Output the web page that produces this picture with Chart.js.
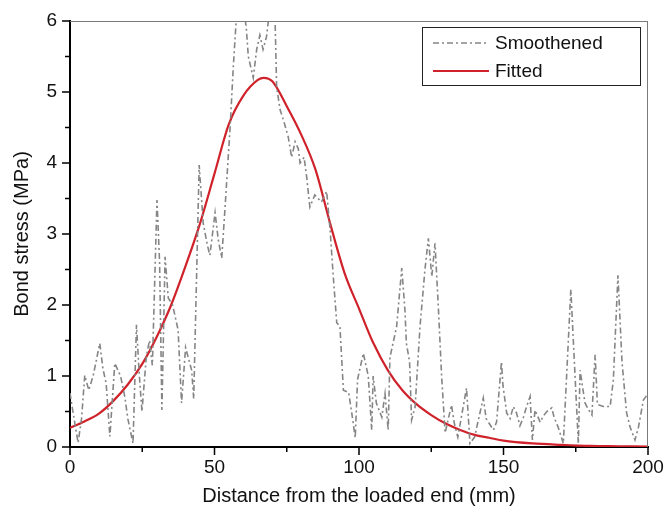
<!DOCTYPE html>
<html>
<head>
<meta charset="utf-8">
<script src="https://cdn.jsdelivr.net/npm/chart.js@4/dist/chart.umd.min.js"></script>
<style>
  html, body { margin: 0; padding: 0; background: #fff; }
  #wrap { width: 667px; height: 513px; }
</style>
</head>
<body>
<div id="wrap"><canvas id="c" width="667" height="513"></canvas></div>
<script>
var smooth_x = [0, 1, 2.8, 4, 5.1, 6.5, 8, 10.3, 11.4, 12.5, 13.8, 15.5, 17.5, 19, 20, 21.8, 23, 24, 24.9, 26.4,
  27.5, 28.5, 30.1, 31, 31.8, 32.9, 34, 35.5, 37.4, 38.6, 40, 42.1, 42.8, 44.7, 46.1, 47.5, 48.4, 50.2, 51.3, 52.5,
  53.6, 55.4, 56.5, 57.8, 59.5, 61, 61.7, 63.4, 64.6, 65.7, 66.8, 68, 69.5, 70.8, 71.5, 72.7, 73.9, 75.5, 76.7, 77.9,
  79, 79.6, 81, 81.9, 83, 84.7, 87, 88.8, 90, 91.1, 92.3, 93.4, 94.6, 96.4, 97.6, 98.7, 99.5, 101.5, 103.2, 104.4,
  104.9, 106, 107.9, 109, 110.1, 110.7, 113, 114.8, 115.9, 116.4, 117.5, 118.2, 119.4, 121.1, 122.8, 124, 125.2, 126.3, 127.5, 128.6,
  129.8, 132, 133, 134.2, 137.2, 138.4, 140, 143, 144, 145.4, 146.5, 147.6, 149.3, 149.8, 151.1, 152.3, 153.4, 154.5, 155.7, 156.9,
  158, 159.2, 160, 160.9, 162.7, 163.8, 165, 166.7, 167.5, 168.9, 170.7, 173.3, 175.9, 176.5, 178.2, 179.5, 180.6, 181.7, 182.5, 184.5,
  186.9, 188, 189.6, 191, 192.6, 193.8, 195.5, 196.7, 198.4, 200];
var smooth_y = [0.76, 0.5, 0.06, 0.4, 1.01, 0.8, 1.0, 1.46, 1.1, 0.9, 0.15, 1.18, 1.0, 0.7, 0.4, 0.05, 1.72, 1.0, 0.5, 1.27,
  1.5, 1.15, 3.48, 2.6, 0.52, 2.68, 2.1, 2.0, 1.65, 0.62, 1.4, 1.08, 0.68, 3.97, 3.15, 2.85, 2.7, 3.3, 2.92, 2.66,
  3.34, 4.5, 5.35, 6.2, 6.4, 5.9, 5.5, 5.2, 5.6, 5.8, 5.6, 5.78, 6.3, 6.3, 5.07, 4.75, 4.6, 4.37, 4.08, 4.3,
  4.2, 4.0, 4.08, 3.8, 3.38, 3.55, 3.45, 3.6, 3.06, 2.4, 1.75, 1.7, 0.8, 0.77, 0.45, 0.13, 0.95, 1.32, 1.0, 0.24,
  1.0, 0.62, 0.42, 0.75, 0.24, 1.26, 1.69, 2.52, 1.93, 1.46, 1.2, 0.38, 0.56, 1.69, 2.49, 2.94, 2.4, 2.87, 1.93, 0.99,
  0.2, 0.59, 0.33, 0.14, 0.83, 0.05, 0.14, 0.69, 0.4, 0.31, 0.24, 0.35, 1.2, 0.87, 0.48, 0.4, 0.57, 0.48, 0.3, 0.42,
  0.57, 0.71, 0.1, 0.52, 0.35, 0.44, 0.5, 0.55, 0.42, 0.28, 0.05, 2.22, 0.05, 1.08, 0.62, 0.52, 0.45, 1.3, 0.6, 0.57,
  0.57, 0.94, 2.42, 1.2, 0.48, 0.28, 0.1, 0.28, 0.66, 0.75];

// fitted curve
var fit_x = [0, 5, 10, 15, 20, 25, 30, 35, 40, 45, 50, 55, 60, 65, 67, 70, 75, 80, 85, 90,
  95, 100, 105, 110, 115, 120, 125, 130, 135, 140, 145, 150, 160, 170, 180, 190, 200];
var fit_y = [0.27, 0.36, 0.47, 0.65, 0.88, 1.17, 1.55, 2.0, 2.55, 3.15, 3.85, 4.55, 4.95, 5.17, 5.2, 5.15, 4.8, 4.4, 3.9, 3.15,
  2.45, 1.95, 1.46, 1.08, 0.8, 0.6, 0.45, 0.33, 0.24, 0.17, 0.13, 0.09, 0.05, 0.03, 0.015, 0.01, 0.005];

var x_min = 0, x_max = 200, x_step = 25, x_label_every = 50;
var y_min = 0, y_max = 6, y_step = 0.5;
var series_names = ['Smoothened', 'Fitted'];

var FONT = "'Liberation Sans', Arial, sans-serif";
var GREY = '#858585';
var RED = '#d0222a';

function pts(xs, ys) {
  var out = [];
  for (let i = 0; i < xs.length; i++) out.push({x: xs[i], y: ys[i]});
  return out;
}

var framePlugin = {
  id: 'frame',
  afterDraw: function(chart) {
    var ctx = chart.ctx, a = chart.chartArea;
    var xs = chart.scales.x, ys = chart.scales.y;
    ctx.save();
    // top and right frame
    ctx.strokeStyle = '#7a7a7a';
    ctx.lineWidth = 1;
    ctx.beginPath();
    ctx.moveTo(a.left, a.top + 0.5); ctx.lineTo(a.right, a.top + 0.5);
    ctx.moveTo(a.right - 0.5, a.top); ctx.lineTo(a.right - 0.5, a.bottom);
    ctx.stroke();
    // outward tick marks
    ctx.strokeStyle = '#000';
    ctx.lineWidth = 1.5;
    ctx.beginPath();
    xs.ticks.forEach(function(t) {
      var px = xs.getPixelForValue(t.value);
      var len = (t.value % x_label_every === 0) ? 8 : 5;
      ctx.moveTo(px, a.bottom); ctx.lineTo(px, a.bottom + len);
    });
    ys.ticks.forEach(function(t) {
      var py = ys.getPixelForValue(t.value);
      var len = (t.value % 1 === 0) ? 8 : 5;
      ctx.moveTo(a.left, py); ctx.lineTo(a.left - len, py);
    });
    ctx.stroke();
    // legend box
    var bx = 422, by = 27, bw = 218, bh = 58;
    ctx.fillStyle = '#fff';
    ctx.fillRect(bx, by, bw, bh);
    ctx.strokeStyle = '#222';
    ctx.lineWidth = 1;
    ctx.strokeRect(bx + 0.5, by + 0.5, bw, bh);
    var ds = chart.data.datasets;
    ctx.font = '19px ' + FONT;
    ctx.textBaseline = 'middle';
    for (let i = 0; i < ds.length; i++) {
      var ly = by + 16 + i * 28;
      ctx.strokeStyle = ds[i].borderColor;
      ctx.lineWidth = ds[i].borderWidth;
      ctx.setLineDash(ds[i].borderDash || []);
      ctx.beginPath();
      ctx.moveTo(bx + 11, ly); ctx.lineTo(bx + 67, ly);
      ctx.stroke();
      ctx.setLineDash([]);
      ctx.fillStyle = '#111';
      ctx.fillText(ds[i].label, bx + 73, ly + 1);
    }
    ctx.restore();
  }
};

new Chart(document.getElementById('c'), {
  type: 'line',
  data: {
    datasets: [
      {
        label: series_names[0],
        data: pts(smooth_x, smooth_y),
        borderColor: GREY,
        borderWidth: 1.6,
        borderDash: [6, 3, 2, 3],
        pointRadius: 0,
        tension: 0,
        fill: false
      },
      {
        label: series_names[1],
        data: pts(fit_x, fit_y),
        borderColor: RED,
        borderWidth: 2.2,
        pointRadius: 0,
        cubicInterpolationMode: 'monotone',
        fill: false
      }
    ]
  },
  options: {
    responsive: false,
    animation: false,
    layout: { padding: { top: 21, right: 19, left: 0, bottom: 0 } },
    plugins: { legend: { display: false }, tooltip: { enabled: false } },
    scales: {
      x: {
        type: 'linear',
        min: x_min, max: x_max,
        grid: { display: false },
        border: { display: true, color: '#000', width: 2 },
        ticks: {
          stepSize: x_step,
          padding: 1,
          color: '#111',
          font: { family: FONT, size: 19 },
          maxRotation: 0,
          callback: function(v) { return v % x_label_every === 0 ? v : ''; }
        },
        title: {
          display: true,
          text: 'Distance from the loaded end (mm)',
          color: '#111',
          font: { family: FONT, size: 20 },
          padding: { top: 0, bottom: 5 }
        },
        afterFit: function(s) { s.height = 66; s.paddingLeft = 0; s.paddingRight = 0; }
      },
      y: {
        min: y_min, max: y_max,
        grid: { display: false },
        border: { display: true, color: '#000', width: 2 },
        ticks: {
          stepSize: y_step,
          padding: 5,
          color: '#111',
          font: { family: FONT, size: 19 },
          callback: function(v) { return v % 1 === 0 ? v : ''; }
        },
        title: {
          display: true,
          text: 'Bond stress (MPa)',
          color: '#111',
          font: { family: FONT, size: 20 },
          padding: { top: 10, bottom: 0 }
        },
        afterFit: function(s) { s.width = 70; s.paddingTop = 0; s.paddingBottom = 0; }
      }
    }
  },
  plugins: [framePlugin]
});
</script>
</body>
</html>
